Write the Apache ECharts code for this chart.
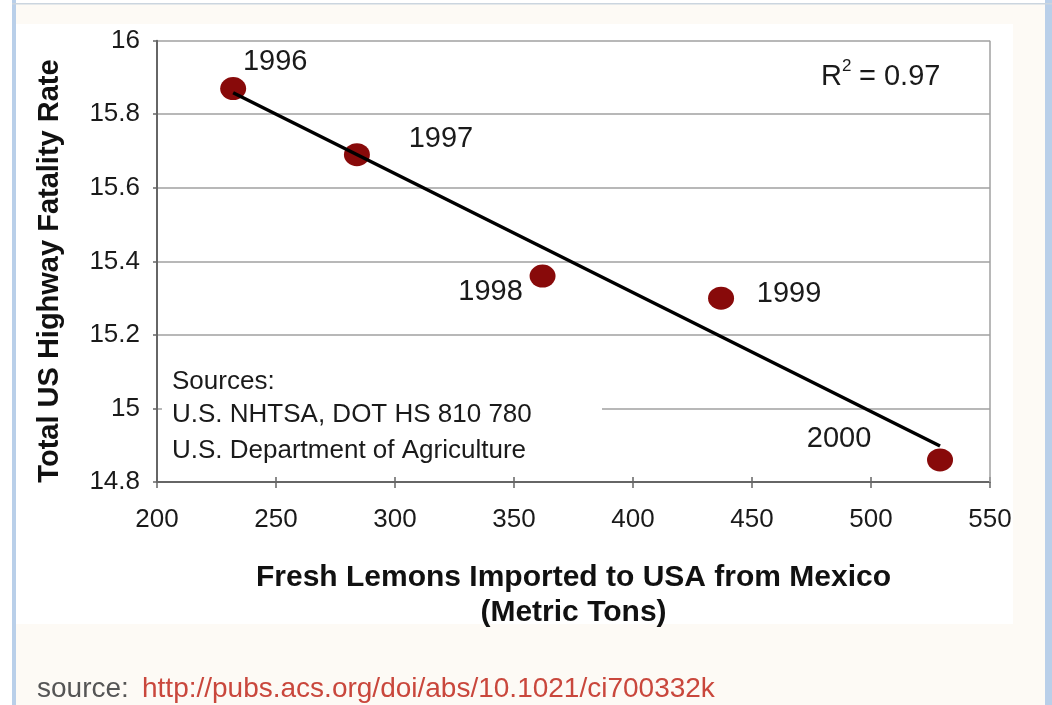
<!DOCTYPE html>
<html>
<head>
<meta charset="utf-8">
<script src="https://cdn.jsdelivr.net/npm/echarts@6/dist/echarts.min.js"></script>
<style>
html,body{margin:0;padding:0;background:#ffffff;}
#chart{width:1052px;height:705px;}
</style>
</head>
<body>
<div id="chart"></div>
<script>
// ---- data ----
const years = ['1996', '1997', '1998', '1999', '2000'];
const lemonImports = [232, 284, 362, 437, 529];          // metric tons
const fatalityRate = [15.87, 15.69, 15.36, 15.30, 14.86]; // total US highway fatality rate
const xTicks = [200, 250, 300, 350, 400, 450, 500, 550];
const yTicks = [14.8, 15, 15.2, 15.4, 15.6, 15.8, 16];
const rSquaredText = '0.97';
const sourceLines = ['Sources:', 'U.S. NHTSA, DOT HS 810 780', 'U.S. Department of Agriculture'];
const xTitle = 'Fresh Lemons Imported to USA from Mexico\n(Metric Tons)';
const yTitle = 'Total US Highway Fatality Rate';
const footerLabel = 'source:';
const footerUrl = 'http://pubs.acs.org/doi/abs/10.1021/ci700332k';

// least-squares trend line from the data
const n = lemonImports.length;
const mx = lemonImports.reduce((a, b) => a + b, 0) / n;
const my = fatalityRate.reduce((a, b) => a + b, 0) / n;
let sxy = 0, sxx = 0;
for (let i = 0; i < n; i++) { sxy += (lemonImports[i] - mx) * (fatalityRate[i] - my); sxx += (lemonImports[i] - mx) ** 2; }
const slope = sxy / sxx, intercept = my - slope * mx;
const xMin = Math.min(...lemonImports), xMax = Math.max(...lemonImports);
const trend = [[xMin, intercept + slope * xMin], [xMax, intercept + slope * xMax]];

// label offsets (style only)
const labelOffsets = [[42, -27], [84, -16], [-52, 16], [68, -4], [-101, -21]];

const FONT = '"Liberation Sans", Arial, Helvetica, sans-serif';
const TXT = '#1a1a1a';

const chart = echarts.init(document.getElementById('chart'), null, { renderer: 'canvas' });
chart.setOption({
  backgroundColor: '#ffffff',
  animation: false,
  grid: { left: 157, right: 62, top: 40.7, bottom: 223, containLabel: false, show: false },
  xAxis: [{
    type: 'value', min: xTicks[0], max: xTicks[xTicks.length - 1], interval: 50,
    name: xTitle, nameLocation: 'middle', nameGap: 78,
    nameTextStyle: { fontFamily: FONT, fontSize: 30, fontWeight: 'bold', color: '#111', lineHeight: 35 },
    axisLine: { show: true, lineStyle: { color: '#666', width: 2 } },
    axisTick: { show: true, length: 6, lineStyle: { color: '#666', width: 1.5 } },
    axisLabel: { margin: 25, fontFamily: FONT, fontSize: 26, color: TXT },
    splitLine: { show: false }
  }, {
    // inner half of the crossing tick marks
    type: 'value', position: 'bottom', min: xTicks[0], max: xTicks[xTicks.length - 1], interval: 50,
    axisLine: { show: false },
    axisTick: { show: true, inside: true, length: 5, lineStyle: { color: '#666', width: 1.5 } },
    axisLabel: { show: false },
    splitLine: { show: false }
  }],
  yAxis: {
    type: 'value', min: 14.8, max: 16, interval: 0.2,
    axisLine: { show: true, lineStyle: { color: '#666', width: 2 } },
    axisTick: { show: true, length: 4, lineStyle: { color: '#666', width: 1.5 } },
    axisLabel: {
      margin: 17, fontFamily: FONT, fontSize: 26, color: TXT,
      formatter: v => { const t = yTicks.find(k => Math.abs(k - v) < 1e-6); return t === undefined ? '' : String(t); }
    },
    splitLine: { show: true, lineStyle: { color: '#a0a0a0', width: 1.5 } }
  },
  graphic: [
    // page frame
    { type: 'rect', z: -10, shape: { x: 12, y: 4, width: 1040, height: 701 }, style: { fill: '#fdfaf5' }, silent: true },
    { type: 'rect', z: -9, shape: { x: 16, y: 24, width: 997, height: 600 }, style: { fill: '#ffffff' }, silent: true },
    { type: 'rect', z: -8, shape: { x: 12, y: 0, width: 4, height: 705 }, style: { fill: '#b9cfe9' }, silent: true },
    { type: 'rect', z: -8, shape: { x: 1045, y: 0, width: 7, height: 705 }, style: { fill: '#b9cfe9' }, silent: true },
    { type: 'rect', z: -8, shape: { x: 12, y: 3, width: 1040, height: 1.5 }, style: { fill: '#cbd5df' }, silent: true },
    // plot right border
    { type: 'line', z: 1, shape: { x1: 990, y1: 40.7, x2: 990, y2: 482 }, style: { stroke: '#a0a0a0', lineWidth: 1.5 }, silent: true },
    // y-axis title
    { type: 'text', z: 5, x: 50, y: 271, rotation: Math.PI / 2,
      style: { text: yTitle, font: 'bold 29px ' + FONT, fill: '#111', align: 'center', verticalAlign: 'middle' } },
    // sources box (covers grid line)
    { type: 'rect', z: 5, shape: { x: 162, y: 362, width: 440, height: 108 }, style: { fill: '#ffffff' }, silent: true },
    { type: 'text', z: 6, x: 172, y: 382,
      style: { text: sourceLines[0], font: '26px ' + FONT, fill: TXT, align: 'left', verticalAlign: 'middle' } },
    { type: 'text', z: 6, x: 172, y: 415,
      style: { text: sourceLines[1], font: '26px ' + FONT, fill: TXT, align: 'left', verticalAlign: 'middle' } },
    { type: 'text', z: 6, x: 172, y: 451,
      style: { text: sourceLines[2], font: '26px ' + FONT, fill: TXT, align: 'left', verticalAlign: 'middle' } },
    // R^2 label
    { type: 'text', z: 6, x: 821, y: 77,
      style: { text: 'R', font: '29px ' + FONT, fill: TXT, align: 'left', verticalAlign: 'middle' } },
    { type: 'text', z: 6, x: 842, y: 66,
      style: { text: '2', font: '17px ' + FONT, fill: TXT, align: 'left', verticalAlign: 'middle' } },
    { type: 'text', z: 6, x: 859, y: 77,
      style: { text: '= ' + rSquaredText, font: '29px ' + FONT, fill: TXT, align: 'left', verticalAlign: 'middle' } },
    // footer
    { type: 'text', z: 6, x: 37, y: 689,
      style: { text: footerLabel, font: '28px ' + FONT, fill: '#555', align: 'left', verticalAlign: 'middle' } },
    { type: 'text', z: 6, x: 142, y: 689,
      style: { text: footerUrl, font: '28px ' + FONT, fill: '#c9473c', align: 'left', verticalAlign: 'middle' } }
  ],
  series: [
    {
      type: 'scatter', z: 3,
      symbol: 'circle', symbolSize: [26, 23],
      itemStyle: { color: '#880a0a', opacity: 1 },
      emphasis: { disabled: true },
      data: lemonImports.map((x, i) => ({
        value: [x, fatalityRate[i]],
        label: { show: true, position: 'inside', offset: labelOffsets[i], formatter: years[i],
                 fontFamily: FONT, fontSize: 29, color: TXT, opacity: 1 }
      }))
    },
    {
      type: 'line', z: 4, data: trend, showSymbol: false, symbol: 'none',
      lineStyle: { color: '#000', width: 3.5 }
    }
  ]
});
</script>
</body>
</html>
